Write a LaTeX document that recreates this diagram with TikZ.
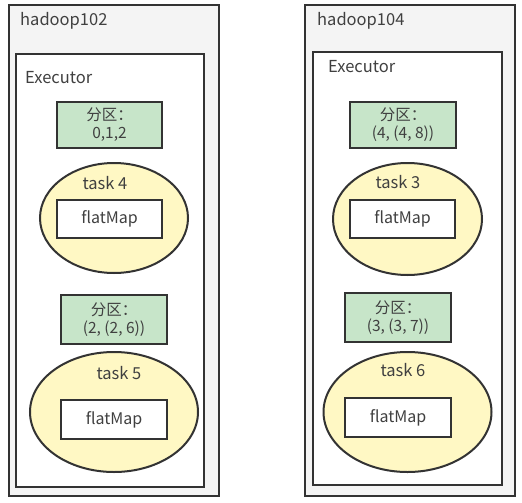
\documentclass[tikz,border=0pt]{standalone}
\usepackage{fontspec}
\setmainfont{Noto Sans CJK SC}
\usetikzlibrary{shapes.geometric}
\definecolor{edgec}{HTML}{333333}
\definecolor{txtc}{HTML}{404040}
\definecolor{hostfill}{HTML}{F4F4F4}
\definecolor{partfill}{HTML}{C7E5C9}
\definecolor{taskfill}{HTML}{FFF8C4}
\tikzset{
  base/.style={draw=edgec, line width=2pt, inner sep=0pt, text=txtc, font=\fontsize{16}{19}\selectfont},
  hostbox/.style={base, fill=hostfill, rectangle},
  execbox/.style={base, fill=white, rectangle},
  partbox/.style={base, fill=partfill, rectangle, align=center, font=\fontsize{15.5}{18}\selectfont},
  taskell/.style={base, fill=taskfill, ellipse},
  opbox/.style={base, fill=white, rectangle},
  lbl/.style={inner sep=0pt, text=txtc, font=\fontsize{16.5}{19}\selectfont},
}
\begin{document}
\begin{tikzpicture}[x=1pt,y=-1pt]
\useasboundingbox (0,0) rectangle (522,503);
% left host
\node[hostbox, minimum width=210, minimum height=491] (h1) at (114,250.5) {};
\node[lbl, anchor=west] (h1t) at (20,21) {hadoop102};
\node[execbox, minimum width=188, minimum height=433] (e1) at (110,270.5) {};
\node[lbl, anchor=west] (e1t) at (25,78) {Executor};
\node[partbox, minimum width=105, minimum height=46] (p1) at (109.5,125) {分区：\\0,1,2};
\node[taskell, minimum width=148, minimum height=110] (t1) at (114,218) {};
\node[lbl] (t1t) at (105,183) {task 4};
\node[opbox, minimum width=105, minimum height=38] (f1) at (109.5,219) {flatMap};
\node[partbox, minimum width=106, minimum height=49] (p2) at (114,319.5) {分区：\\(2, (2, 6))};
\node[taskell, minimum width=168, minimum height=120] (t2) at (114,412) {};
\node[lbl] (t2t) at (119,373) {task 5};
\node[opbox, minimum width=106, minimum height=39] (f2) at (114,419.5) {flatMap};
% right host
\node[hostbox, minimum width=210, minimum height=491] (h2) at (410,250.5) {};
\node[lbl, anchor=west] (h2t) at (317,21) {hadoop104};
\node[execbox, minimum width=189, minimum height=433] (e2) at (407.5,268.5) {};
\node[lbl, anchor=west] (e2t) at (328,67) {Executor};
\node[partbox, minimum width=106, minimum height=46] (p3) at (403,125) {分区：\\(4, (4, 8))};
\node[taskell, minimum width=149, minimum height=112] (t3) at (407.5,219) {};
\node[lbl] (t3t) at (398,182) {task 3};
\node[opbox, minimum width=105, minimum height=38] (f3) at (402.5,219) {flatMap};
\node[partbox, minimum width=106, minimum height=49] (p4) at (398,317.5) {分区：\\(3, (3, 7))};
\node[taskell, minimum width=168, minimum height=120] (t4) at (407.5,412) {};
\node[lbl] (t4t) at (403,370) {task 6};
\node[opbox, minimum width=106, minimum height=39] (f4) at (398,417.5) {flatMap};
\end{tikzpicture}
\end{document}
